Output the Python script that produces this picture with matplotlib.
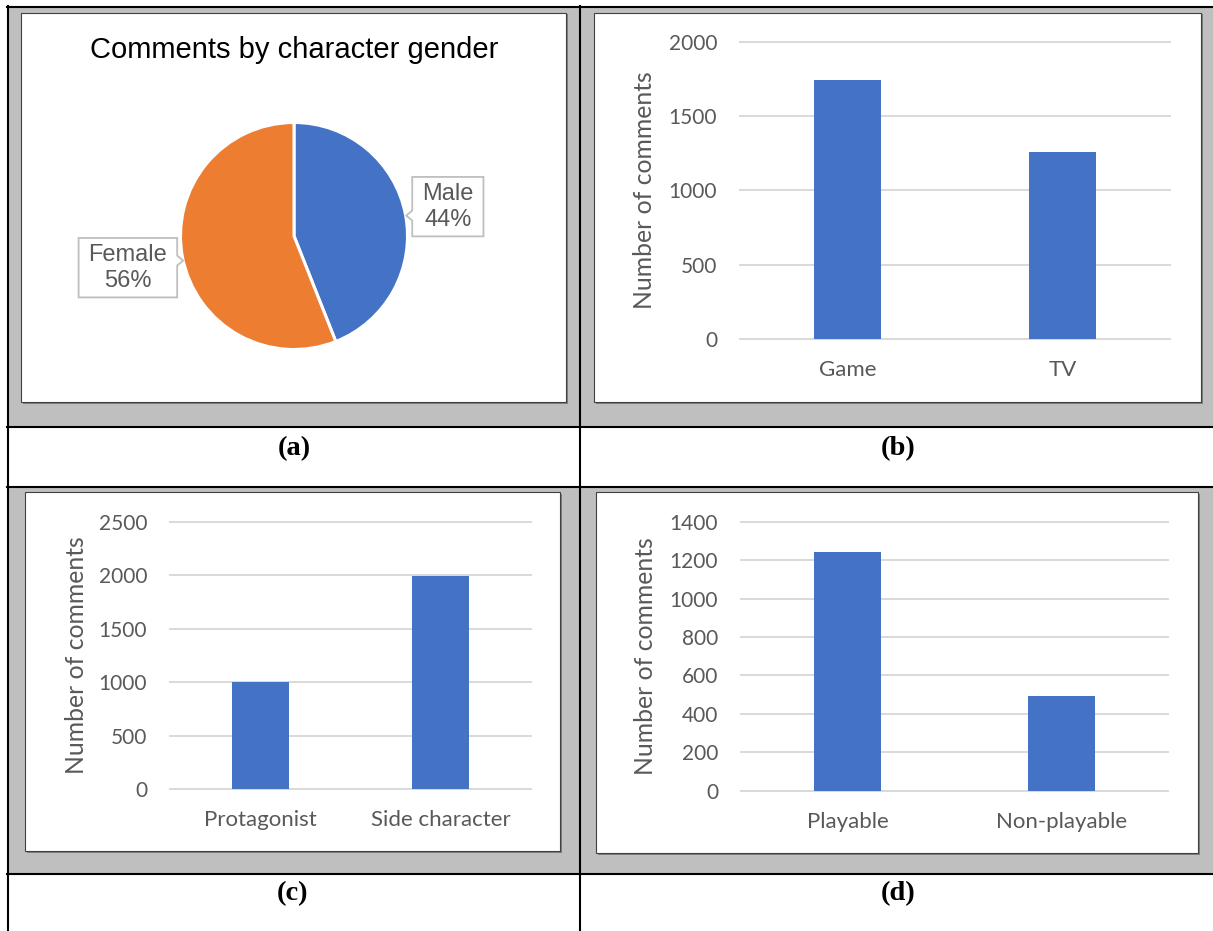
import numpy as np
import matplotlib
matplotlib.use("Agg")
from matplotlib import pyplot as plt
from matplotlib.patches import Rectangle
from matplotlib.lines import Line2D
from matplotlib.path import Path

# data
gender_labels = ["Male", "Female"]
gender_share = [44, 56]

media_cats = ["Game", "TV"]
media_counts = [1740, 1260]

role_cats = ["Protagonist", "Side character"]
role_counts = [1000, 1990]

play_cats = ["Playable", "Non-playable"]
play_counts = [1240, 495]

panel_tags = ["(a)", "(b)", "(c)", "(d)"]

BLUE = "#4472C4"
ORANGE = "#ED7D31"
GREY_TXT = "#595959"
CELL = "#BFBFBF"

W, H = 1213, 931
plt.rcParams["font.family"] = ["Lato", "DejaVu Sans"]

fig = plt.figure(figsize=(W / 100, H / 100), dpi=100)


def fbox(x0, y0, x1, y1):
    # pixel box (top-left origin) -> figure fraction [l, b, w, h]
    return [x0 / W, 1 - y1 / H, (x1 - x0) / W, (y1 - y0) / H]


def rect(x0, y0, x1, y1, z=-3, **kw):
    l, b, w, h = fbox(x0, y0, x1, y1)
    fig.add_artist(Rectangle((l, b), w, h, transform=fig.transFigure, zorder=z, **kw))


def hline(y, x0, x1):
    fig.add_artist(Line2D([x0 / W, x1 / W], [1 - y / H] * 2, color="black", lw=1.5,
                          transform=fig.transFigure, zorder=-2))


def vline(x, y0, y1):
    fig.add_artist(Line2D([x / W] * 2, [1 - y0 / H, 1 - y1 / H], color="black", lw=1.5,
                          transform=fig.transFigure, zorder=-2))


# table cells
rect(7, 7, W + 5, 427, fc=CELL, ec="none", z=-4)
rect(7, 487, W + 5, 874, fc=CELL, ec="none", z=-4)
for y in (7, 427, 487, 874):
    hline(y, 7, W + 5)
vline(7.5, 6, H + 5)
vline(580, 6, H + 5)

# white chart frames with a soft shadow
for x0, y0, x1, y1 in [(21, 12.5, 566, 402), (594, 12.5, 1201, 402),
                       (25, 492, 560, 851), (596, 492, 1198, 853)]:
    rect(x0 + 1.5, y0 + 1.5, x1 + 1.5, y1 + 1.5, fc="#7F7F7F", ec="none", z=-1.5)
    rect(x0, y0, x1, y1, fc="white", ec="#404040", lw=0.8, z=-1)

# panel captions
for tag, (x, y) in zip(panel_tags, [(294, 449), (898, 449), (293, 894), (898, 894)]):
    fig.text(x / W, 1 - y / H, tag, ha="center", va="center", fontsize=20.5,
             fontweight="bold", family=["Liberation Serif", "DejaVu Serif"])


class Callout:
    """Rectangle with a small pointer on one side."""

    def __init__(self, side, frac, padx=0.42, pady=0.24, depth=6, half=5):
        self.side, self.frac = side, frac
        self.padx, self.pady = padx, pady
        self.depth, self.half = depth, half

    def __call__(self, x0, y0, width, height, mutation_size):
        px, py = self.padx * mutation_size, self.pady * mutation_size
        l, r = x0 - px, x0 + width + px
        b, t = y0 - py, y0 + height + py
        ym = b + self.frac * (t - b)
        d, hh = self.depth, self.half
        if self.side == "left":
            verts = [(l, b), (r, b), (r, t), (l, t), (l, ym + hh), (l - d, ym),
                     (l, ym - hh), (l, b)]
        else:
            verts = [(l, b), (r, b), (r, ym - hh), (r + d, ym), (r, ym + hh),
                     (r, t), (l, t), (l, b)]
        codes = [Path.MOVETO] + [Path.LINETO] * (len(verts) - 2) + [Path.CLOSEPOLY]
        return Path(verts, codes)


# (a) pie
R = 113.5
k = 2.0
cx, cy = 294, 236
ax_pie = fig.add_axes(fbox(cx - R * k, cy - R * k, cx + R * k, cy + R * k))
ax_pie.set_facecolor("none")
wedges, _ = ax_pie.pie(gender_share, colors=[BLUE, ORANGE], startangle=90,
                       counterclock=False, radius=1,
                       wedgeprops=dict(edgecolor="white", linewidth=2.2))
ax_pie.set_xlim(-k, k)
ax_pie.set_ylim(-k, k)
ax_pie.set_aspect("equal")

label_dist = [1.38, 1.49]
callouts = [Callout("left", 0.35), Callout("right", 0.62)]
for w, name, share, dist, co in zip(wedges, gender_labels, gender_share, label_dist, callouts):
    ang = np.deg2rad((w.theta1 + w.theta2) / 2)
    ax_pie.text(dist * np.cos(ang), dist * np.sin(ang), f"{name}\n{share}%",
                ha="center", va="center", fontsize=17, color=GREY_TXT,
                linespacing=1.24, family=["Liberation Sans", "DejaVu Sans"],
                bbox=dict(boxstyle=co, fc="white", ec="#BFBFBF", lw=1.3))

fig.text(cx / W, 1 - 50 / H, "Comments by character gender", ha="center", va="center",
         fontsize=21, color="black", family=["Liberation Sans", "DejaVu Sans"])


def bar_panel(box, cats, vals, ymax, step, label_x):
    ax = fig.add_axes(fbox(*box))
    x = np.arange(len(cats))
    ax.bar(x, vals, width=0.316, color=BLUE, zorder=3)
    ax.set_xlim(-0.5, len(cats) - 0.5)
    ax.set_ylim(0, ymax)
    ax.set_yticks(np.arange(0, ymax + 1, step))
    ax.set_xticks(x)
    ax.set_xticklabels(cats)
    ax.yaxis.grid(True, color="#D9D9D9", lw=1.4)
    for gl in ax.get_ygridlines():
        gl.set_clip_on(False)
    ax.set_axisbelow(True)
    for sp in ax.spines.values():
        sp.set_visible(False)
    ax.set_facecolor("none")
    ax.tick_params(axis="both", length=0, labelcolor=GREY_TXT)
    ax.tick_params(axis="y", pad=16.5, labelsize=15)
    ax.tick_params(axis="x", pad=15, labelsize=16)
    ax.set_ylabel("Number of comments", fontsize=17.8, color=GREY_TXT)
    ax.yaxis.label.set_va("center")
    ax.yaxis.set_label_coords(label_x, 0.5)
    return ax


bar_panel((740, 41.7, 1170, 339.3), media_cats, media_counts, 2000, 500, -0.223)
bar_panel((170, 521.7, 531, 789), role_cats, role_counts, 2500, 500, -0.260)
bar_panel((741, 521.7, 1168, 790.7), play_cats, play_counts, 1400, 200, -0.2225)

fig.savefig("out.png", dpi=100)
